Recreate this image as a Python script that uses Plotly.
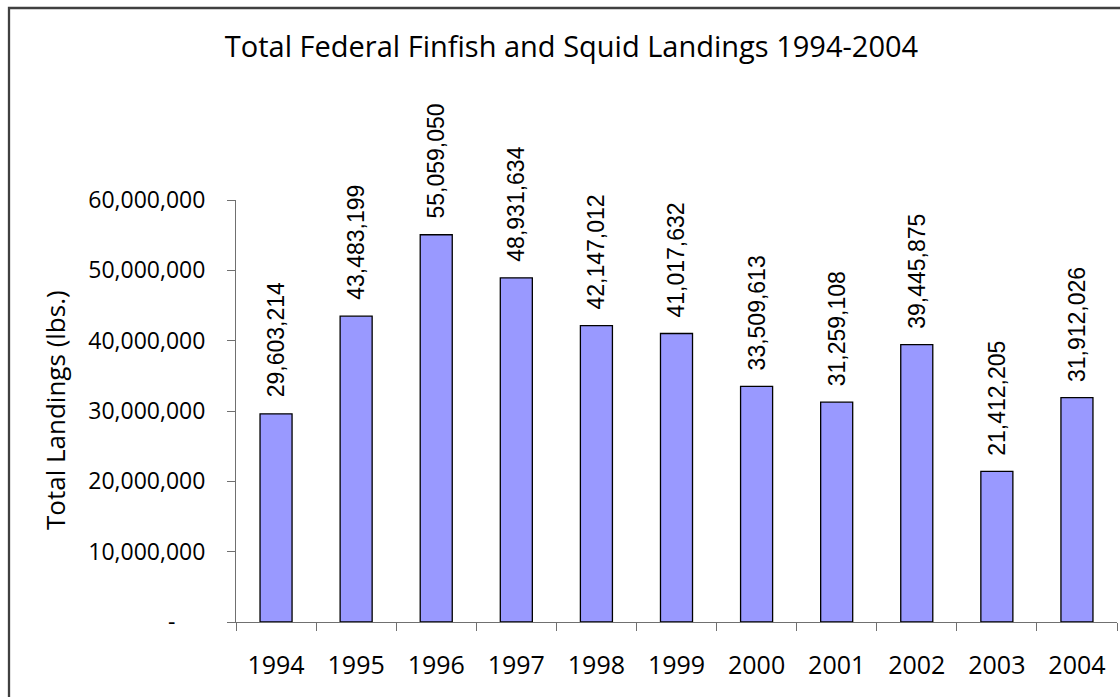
import plotly.graph_objects as go

years = ["1994", "1995", "1996", "1997", "1998", "1999", "2000", "2001", "2002", "2003", "2004"]
landings = [29603214, 43483199, 55059050, 48931634, 42147012, 41017632,
            33509613, 31259108, 39445875, 21412205, 31912026]
y_tickvals = [0, 10000000, 20000000, 30000000, 40000000, 50000000, 60000000]
y_ticktext = ["-\u00a0\u00a0\u00a0\u00a0\u00a0", "10,000,000", "20,000,000", "30,000,000",
              "40,000,000", "50,000,000", "60,000,000"]
title_text = "Total Federal Finfish and Squid Landings 1994-2004"
y_title = "Total Landings (lbs.)"

W, H = 1120, 697
ml, mr, mt, mb = 236, 3, 200, 75
pw, ph = W - ml - mr, H - mt - mb

fig = go.Figure()
fig.add_trace(go.Bar(
    x=years, y=landings,
    marker=dict(color="#9999FF", line=dict(color="#000000", width=1.3)),
    hoverinfo="x+y",
))

for i, v in enumerate(landings):
    fig.add_annotation(
        x=i, y=v, xref="x", yref="y",
        text=f"{v:,}", textangle=-90, showarrow=False,
        yanchor="bottom", xanchor="center", yshift=14,
        font=dict(family="Liberation Sans, Arial, sans-serif", size=23, color="#000000"),
    )

fig.add_annotation(
    x=(55 - ml) / pw, y=(H - mb - 410) / ph, xref="paper", yref="paper",
    text=y_title, textangle=-90, showarrow=False,
    xanchor="center", yanchor="middle",
    font=dict(family="Open Sans, sans-serif", size=26, color="#000000"),
)

fig.add_shape(
    type="rect", xref="paper", yref="paper",
    x0=(9 - ml) / pw, x1=(W + 20 - ml) / pw,
    y0=-(mb + 20) / ph, y1=1 + (mt - 8) / ph,
    line=dict(color="#404040", width=2.3), fillcolor="rgba(0,0,0,0)", layer="above",
)

fig.update_layout(
    width=W, height=H,
    margin=dict(l=ml, r=mr, t=mt, b=mb, autoexpand=False),
    paper_bgcolor="#FFFFFF", plot_bgcolor="#FFFFFF",
    bargap=0.6,
    showlegend=False,
    title=dict(
        text=title_text, x=571.5 / W, xref="container",
        xanchor="center", y=1 - 47 / H, yref="container", yanchor="middle",
        font=dict(family="Open Sans, sans-serif", size=29, color="#000000"),
    ),
    xaxis=dict(
        type="category",
        showline=True, linecolor="#707070", linewidth=1,
        ticks="outside", tickson="boundaries", ticklen=8, tickcolor="#707070", tickwidth=1,
        showgrid=False, zeroline=False,
        ticklabelstandoff=21,
        tickfont=dict(family="Open Sans, sans-serif", size=25, color="#000000"),
    ),
    yaxis=dict(
        range=[0, 60000000],
        tickmode="array", tickvals=y_tickvals, ticktext=y_ticktext,
        showline=True, linecolor="#707070", linewidth=1,
        ticks="outside", ticklen=8, tickcolor="#707070", tickwidth=1,
        showgrid=False, zeroline=False,
        ticklabelstandoff=17,
        tickfont=dict(family="Open Sans, sans-serif", size=23, color="#000000"),
    ),
)

fig.write_html("out.html", config={"displayModeBar": False},
               post_script="document.body.style.margin='0px';")
